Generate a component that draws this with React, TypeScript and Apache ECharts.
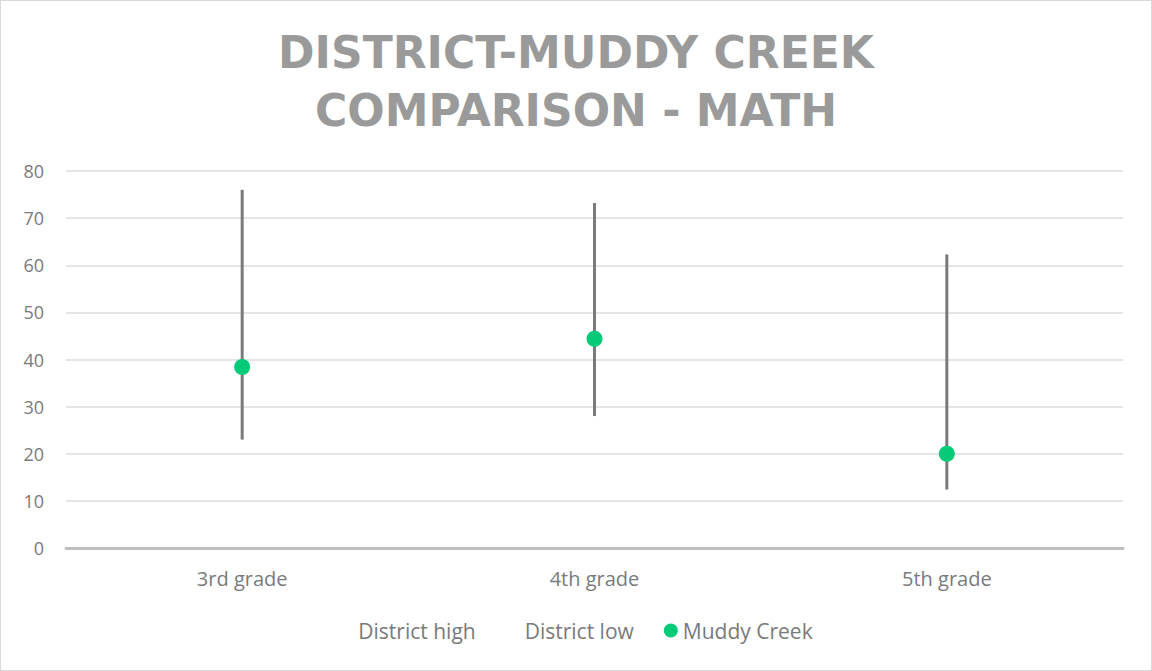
import React, { useEffect, useRef } from "react";
import * as echarts from "echarts";

const categories = ["3rd grade", "4th grade", "5th grade"];
const districtHigh = [76, 73.2, 62.3];
const districtLow = [23, 28, 12.4];
const muddyCreek = [38.4, 44.4, 20];
const titleLines = ["DISTRICT-MUDDY CREEK", "COMPARISON - MATH"];

export default function App() {
  const ref = useRef<HTMLDivElement>(null);
  useEffect(() => {
    document.body.style.margin = "0";
    const chart = echarts.init(ref.current!, null, { renderer: "svg" });
    const font = "'Open Sans', 'Noto Sans', sans-serif";
    chart.setOption({
      animation: false,
      backgroundColor: "#ffffff",
      title: {
        text: titleLines.join("\n"),
        left: "center",
        top: 17,
        textStyle: {
          fontFamily: "'DejaVu Sans', sans-serif",
          fontSize: 44,
          fontWeight: "bold",
          color: "#9a9a9a",
          lineHeight: 58,
        },
      },
      legend: {
        bottom: 24,
        left: "center",
        itemGap: 30,
        itemWidth: 14,
        itemHeight: 14,
        textStyle: { fontFamily: font, fontSize: 21, color: "#7a7a7a" },
        data: [
          { name: "District high", icon: "none" },
          { name: "District low", icon: "none" },
          { name: "Muddy Creek", icon: "circle" },
        ],
      },
      grid: { left: 65, right: 28, top: 170, bottom: 122, containLabel: false },
      xAxis: {
        type: "category",
        data: categories,
        axisLine: { lineStyle: { color: "#bfbfbf", width: 3 } },
        axisTick: { show: false },
        axisLabel: { fontFamily: font, fontSize: 20, color: "#7a7a7a", margin: 20 },
      },
      yAxis: {
        type: "value",
        min: 0,
        max: 80,
        interval: 10,
        axisLine: { show: false },
        axisTick: { show: false },
        axisLabel: { fontFamily: font, fontSize: 18, color: "#7a7a7a", margin: 22 },
        splitLine: { lineStyle: { color: "#dcdcdc", width: 1.5 } },
      },
      series: [
        {
          name: "District high",
          type: "scatter",
          data: districtHigh,
          symbolSize: 0,
          itemStyle: { color: "#7f7f7f" },
        },
        {
          name: "District low",
          type: "scatter",
          data: districtLow,
          symbolSize: 0,
          itemStyle: { color: "#7f7f7f" },
        },
        {
          name: "High-Low",
          type: "custom",
          z: 1,
          silent: true,
          data: categories.map((_, i) => [i, districtLow[i], districtHigh[i]]),
          encode: { x: 0, y: [1, 2] },
          renderItem: (params: any, api: any) => {
            const p1 = api.coord([api.value(0), api.value(1)]);
            const p2 = api.coord([api.value(0), api.value(2)]);
            return {
              type: "line",
              shape: { x1: p1[0], y1: p1[1], x2: p2[0], y2: p2[1] },
              style: { stroke: "#7a7a7a", lineWidth: 3 },
            };
          },
        },
        {
          name: "Muddy Creek",
          type: "scatter",
          z: 3,
          data: muddyCreek,
          symbol: "circle",
          symbolSize: 16,
          itemStyle: { color: "#05cb78", opacity: 1 },
        },
      ],
    });
    return () => chart.dispose();
  }, []);
  return (
    <div
      style={{
        width: 1152,
        height: 671,
        boxSizing: "border-box",
        border: "1px solid #d9d9d9",
        background: "#fff",
      }}
    >
      <div ref={ref} style={{ width: 1150, height: 669 }} />
    </div>
  );
}
